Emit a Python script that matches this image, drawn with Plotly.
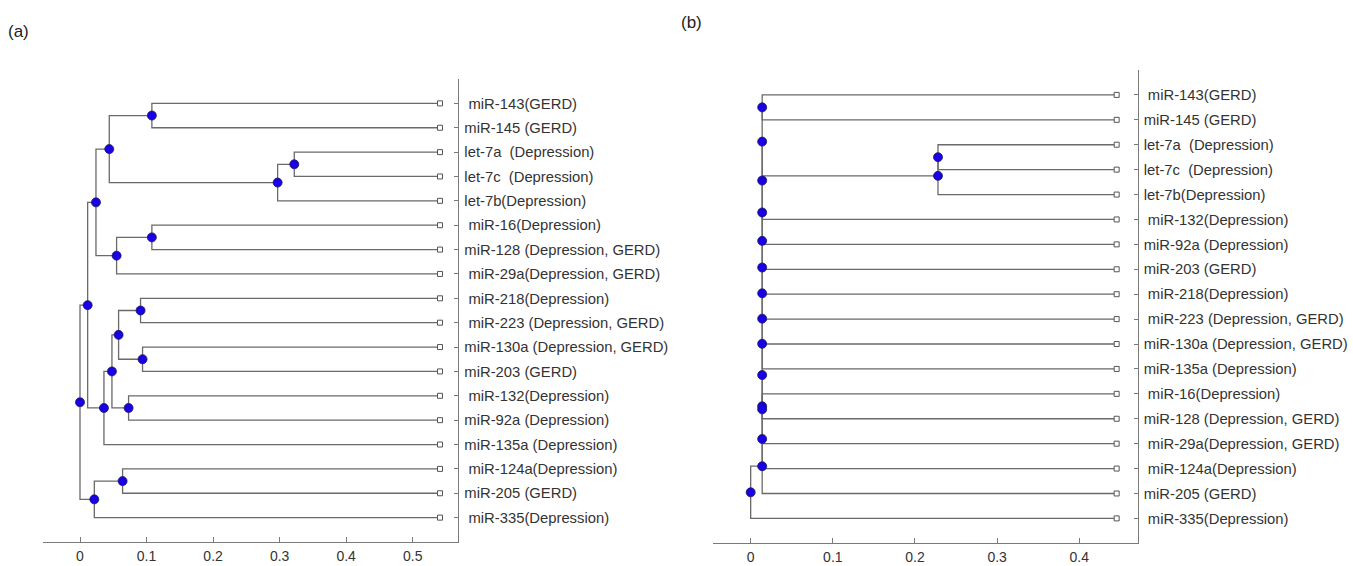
import plotly.graph_objects as go

NB = "\u00a0"

# ---------------- Panel (a) data ----------------
labels_a = [
    NB + "miR-143(GERD)",
    "miR-145 (GERD)",
    "let-7a" + NB + " (Depression)",
    "let-7c" + NB + " (Depression)",
    "let-7b(Depression)",
    NB + "miR-16(Depression)",
    "miR-128 (Depression, GERD)",
    NB + "miR-29a(Depression, GERD)",
    NB + "miR-218(Depression)",
    NB + "miR-223 (Depression, GERD)",
    "miR-130a (Depression, GERD)",
    "miR-203 (GERD)",
    NB + "miR-132(Depression)",
    "miR-92a (Depression)",
    "miR-135a (Depression)",
    NB + "miR-124a(Depression)",
    "miR-205 (GERD)",
    NB + "miR-335(Depression)",
]
# merges (scipy-like: ids 0..17 are leaves, 18+ are merges in order)
merge_left_a = [0, 2, 19, 18, 5, 22, 21, 8, 10, 25, 12, 27, 29, 24, 15, 32, 31]
merge_right_a = [1, 3, 4, 20, 6, 7, 23, 9, 11, 26, 13, 28, 14, 30, 16, 17, 33]
merge_height_a = [0.108, 0.322, 0.297, 0.044, 0.108, 0.055, 0.024, 0.091, 0.094,
                  0.058, 0.073, 0.048, 0.036, 0.0115, 0.064, 0.0215, 0.0]
leaf_height_a = 0.541
xticks_a = [0, 0.1, 0.2, 0.3, 0.4, 0.5]
xticktext_a = ["0", "0.1", "0.2", "0.3", "0.4", "0.5"]

# ---------------- Panel (b) data ----------------
labels_b = [
    NB + "miR-143(GERD)",
    "miR-145 (GERD)",
    "let-7a" + NB + " (Depression)",
    "let-7c" + NB + " (Depression)",
    "let-7b(Depression)",
    NB + "miR-132(Depression)",
    "miR-92a (Depression)",
    "miR-203 (GERD)",
    NB + "miR-218(Depression)",
    NB + "miR-223 (Depression, GERD)",
    "miR-130a (Depression, GERD)",
    "miR-135a (Depression)",
    NB + "miR-16(Depression)",
    "miR-128 (Depression, GERD)",
    NB + "miR-29a(Depression, GERD)",
    NB + "miR-124a(Depression)",
    "miR-205 (GERD)",
    NB + "miR-335(Depression)",
]
merge_left_b = [0, 2, 19, 18, 21, 22, 23, 24, 25, 26, 27, 12, 28, 30, 31, 32, 33]
merge_right_b = [1, 3, 4, 20, 5, 6, 7, 8, 9, 10, 11, 13, 29, 14, 15, 16, 17]
merge_height_b = [0.014, 0.228, 0.228, 0.014, 0.014, 0.014, 0.014, 0.014, 0.014,
                  0.014, 0.014, 0.014, 0.014, 0.014, 0.014, 0.014, 0.0]
leaf_height_b = 0.4455
xticks_b = [0, 0.1, 0.2, 0.3, 0.4]
xticktext_b = ["0", "0.1", "0.2", "0.3", "0.4"]

LINE_COLOR = "#6a6a6a"
AXIS_COLOR = "#7a7a7a"
TEXT_COLOR = "#333333"
FONT = "Arial, Liberation Sans, sans-serif"


def dendro_traces(labels, left, right, heights, leaf_h, xa, ya):
    n = len(labels)
    pos = {i: (leaf_h, n - i) for i in range(n)}
    lx, ly = [], []
    nx, ny = [], []
    for k, (l, r, h) in enumerate(zip(left, right, heights)):
        xl, yl = pos[l]
        xr, yr = pos[r]
        lx += [xl, h, h, xr, None]
        ly += [yl, yl, yr, yr, None]
        y = (yl + yr) / 2.0
        pos[n + k] = (h, y)
        nx.append(h)
        ny.append(y)
    lines = go.Scatter(x=lx, y=ly, mode="lines", xaxis=xa, yaxis=ya,
                       line=dict(color=LINE_COLOR, width=1.3),
                       hoverinfo="skip", showlegend=False)
    leaves = go.Scatter(x=[leaf_h] * n, y=[n - i for i in range(n)], mode="markers",
                        xaxis=xa, yaxis=ya,
                        marker=dict(symbol="square", size=5, color="white",
                                    line=dict(color="#555555", width=1)),
                        hoverinfo="skip", showlegend=False)
    nodes = go.Scatter(x=nx, y=ny, mode="markers", xaxis=xa, yaxis=ya,
                       marker=dict(symbol="circle", size=9, color="#1a00e6",
                                   line=dict(color="#1b1b55", width=0.8)),
                       hoverinfo="skip", showlegend=False)
    return [lines, leaves, nodes]


fig = go.Figure()
for t in dendro_traces(labels_a, merge_left_a, merge_right_a, merge_height_a,
                       leaf_height_a, "x", "y"):
    fig.add_trace(t)
for t in dendro_traces(labels_b, merge_left_b, merge_right_b, merge_height_b,
                       leaf_height_b, "x2", "y2"):
    fig.add_trace(t)

W, H = 1353, 566
n = len(labels_a)

common_x = dict(showline=True, linecolor=AXIS_COLOR, linewidth=1.2, ticks="inside",
                ticklen=5, tickcolor=AXIS_COLOR, tickwidth=1, showgrid=False,
                zeroline=False, tickfont=dict(family=FONT, size=14, color=TEXT_COLOR),
                automargin=False, mirror=False, ticklabelstandoff=1)
common_y = dict(showline=True, linecolor=AXIS_COLOR, linewidth=1.2, ticks="inside",
                ticklen=4, tickcolor=AXIS_COLOR, tickwidth=1, showgrid=False,
                zeroline=False, side="right", range=[0, n + 1],
                tickvals=[n - i for i in range(n)],
                tickfont=dict(family=FONT, size=14.8, color=TEXT_COLOR),
                automargin=False, ticklabelstandoff=2)

fig.update_layout(
    width=W, height=H,
    margin=dict(l=0, r=0, t=0, b=0),
    paper_bgcolor="white", plot_bgcolor="white",
    showlegend=False,
    xaxis=dict(domain=[43 / W, 458.3 / W], range=[-0.0556, 0.5685], anchor="y",
               tickvals=xticks_a, ticktext=xticktext_a, **common_x),
    yaxis=dict(domain=[(H - 542) / H, (H - 79) / H], anchor="x",
               ticktext=labels_a, **common_y),
    xaxis2=dict(domain=[713.3 / W, 1137.7 / W], range=[-0.0455, 0.4711], anchor="y2",
                tickvals=xticks_b, ticktext=xticktext_b, **common_x),
    yaxis2=dict(domain=[(H - 543.3) / H, (H - 70) / H], anchor="x2",
                ticktext=labels_b, **common_y),
    annotations=[
        dict(text="(a)", x=6 / W, y=1 - 31.5 / H, xref="paper", yref="paper",
             xanchor="left", yanchor="middle", showarrow=False,
             font=dict(family=FONT, size=17, color="#222222")),
        dict(text="(b)", x=679 / W, y=1 - 22.5 / H, xref="paper", yref="paper",
             xanchor="left", yanchor="middle", showarrow=False,
             font=dict(family=FONT, size=17, color="#222222")),
    ],
)

fig.write_html("out.html")
